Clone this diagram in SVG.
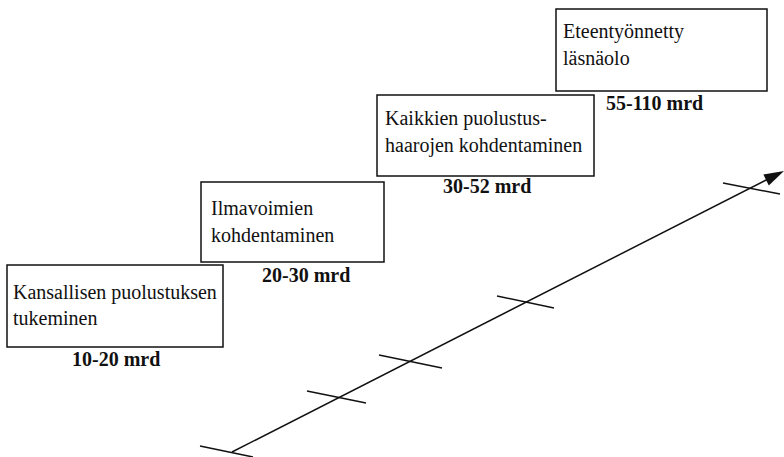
<svg xmlns="http://www.w3.org/2000/svg" width="784" height="457" viewBox="0 0 784 457">
<style>
.box{fill:#fff;stroke:#111;stroke-width:1.5}
.t{font-family:"Liberation Serif","Times New Roman",serif;font-size:20px;fill:#111}
.b{font-family:"Liberation Serif","Times New Roman",serif;font-size:20px;font-weight:bold;fill:#111}
.ln{stroke:#111;stroke-width:1.5;fill:none}
</style>
<rect width="784" height="457" fill="#fff"/>
<g id="node1">
<rect class="box" x="7" y="265" width="216" height="82"/>
<text class="t" x="13" y="299">Kansallisen puolustuksen</text>
<text class="t" x="13" y="325">tukeminen</text>
<text class="b" x="72" y="366">10-20 mrd</text>
</g>
<g id="node2">
<rect class="box" x="201" y="182" width="183" height="80"/>
<text class="t" x="211" y="215">Ilmavoimien</text>
<text class="t" x="211" y="242">kohdentaminen</text>
<text class="b" x="262" y="282">20-30 mrd</text>
</g>
<g id="node3">
<rect class="box" x="377" y="95" width="217" height="81"/>
<text class="t" x="385" y="125">Kaikkien puolustus-</text>
<text class="t" x="385" y="152">haarojen kohdentaminen</text>
<text class="b" x="443" y="193">30-52 mrd</text>
</g>
<g id="node4">
<rect class="box" x="556" y="9" width="211" height="82"/>
<text class="t" x="563" y="38">Eteentyönnetty</text>
<text class="t" x="563" y="65">läsnäolo</text>
<text class="b" x="606" y="110">55-110 mrd</text>
</g>
<g id="connectors">
<line class="ln" x1="232" y1="452" x2="770" y2="178"/>
<polygon points="784,171 763.4,174.6 768.8,185.4" fill="#111"/>
<line class="ln" x1="200" y1="446" x2="253" y2="457"/>
<line class="ln" x1="307" y1="391" x2="366" y2="403"/>
<line class="ln" x1="379" y1="355" x2="442" y2="368"/>
<line class="ln" x1="497" y1="296" x2="554" y2="308"/>
<line class="ln" x1="723" y1="183" x2="780" y2="194"/>
</g>
</svg>
